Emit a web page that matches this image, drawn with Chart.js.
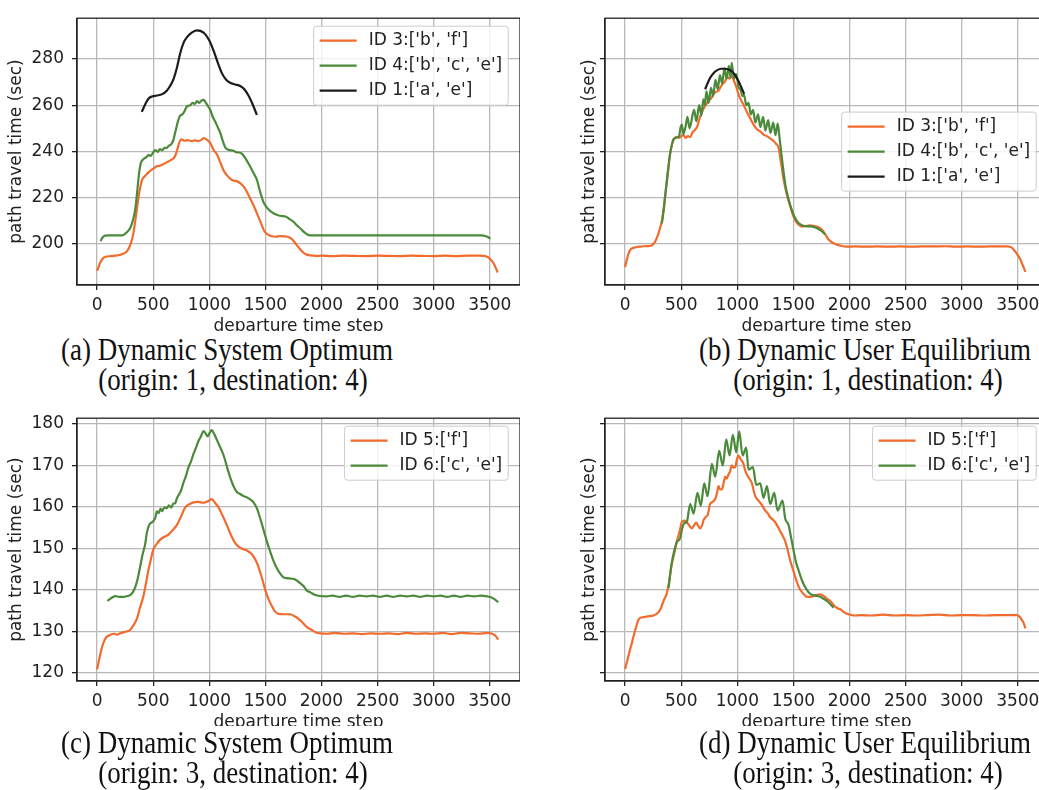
<!DOCTYPE html>
<html>
<head>
<meta charset="utf-8">
<script src="https://cdn.jsdelivr.net/npm/chart.js@4.4.1/dist/chart.umd.min.js"></script>
<style>
body { margin: 0; width: 1039px; height: 790px; overflow: hidden; background: #fff; position: relative; }
canvas { position: absolute; }
.cap { position: absolute; left: 0; width: 1039px; background: #fff; }
.cap div { position: absolute; transform: translateX(-50%) scaleX(0.87); white-space: nowrap;
  font-family: "Liberation Serif", serif; font-size: 31px; line-height: 30px; color: #111; }
</style>
</head>
<body>
<canvas id="chartA" width="520" height="345" style="left:0;top:0"></canvas>
<canvas id="chartB" width="520" height="345" style="left:528px;top:0"></canvas>
<canvas id="chartC" width="520" height="341" style="left:0;top:400px"></canvas>
<canvas id="chartD" width="520" height="341" style="left:528px;top:400px"></canvas>

<div class="cap" style="top:331px;height:69px">
  <div style="left:227px;top:4px">(a) Dynamic System Optimum</div>
  <div style="left:233px;top:34px">(origin: 1, destination: 4)</div>
  <div style="left:865px;top:4px">(b) Dynamic User Equilibrium</div>
  <div style="left:868px;top:34px">(origin: 1, destination: 4)</div>
</div>
<div class="cap" style="top:726px;height:64px">
  <div style="left:227px;top:2px">(c) Dynamic System Optimum</div>
  <div style="left:233px;top:32px">(origin: 3, destination: 4)</div>
  <div style="left:865px;top:2px">(d) Dynamic User Equilibrium</div>
  <div style="left:868px;top:32px">(origin: 3, destination: 4)</div>
</div>

<script>
// tick values
var xTicks = [0, 500, 1000, 1500, 2000, 2500, 3000, 3500];
var yTicksTop = [200, 220, 240, 260, 280];
var yTicksBottom = [120, 130, 140, 150, 160, 170, 180];

var labelsTop = ["ID 3:['b', 'f']", "ID 4:['b', 'c', 'e']", "ID 1:['a', 'e']"];
var labelsBottom = ["ID 5:['f']", "ID 6:['c', 'e']"];

// (a) DSO, origin 1 -> 4   [departure step, travel time]
var dsoA_id3 = [[0,188.2],[25,191.5],[50,193.6],[80,194.4],[120,194.6],[160,194.8],[200,195.1],[240,195.8],[270,197],[300,200],[325,205],[350,213.5],[375,222],[400,227.5],[430,229.5],[460,231],[500,232.5],[530,233.5],[560,233.8],[600,234.7],[630,235.5],[660,236.3],[690,237.5],[710,240],[730,243.5],[750,245.2],[780,244.6],[810,244.9],[840,244.4],[870,244.8],[900,244.5],[930,245],[950,245.8],[980,245],[1010,243.5],[1040,240.5],[1070,238.5],[1100,235],[1130,231.5],[1160,229.5],[1190,228],[1220,227.3],[1250,227],[1280,226],[1310,224.5],[1340,222],[1370,219],[1400,216],[1430,212.5],[1460,209],[1490,205.5],[1520,204],[1550,203.3],[1590,203],[1630,203.3],[1670,203.2],[1710,202.8],[1740,201.8],[1770,200],[1800,198.2],[1830,196.5],[1860,195.4],[1900,194.9],[1950,194.7],[2000,194.8],[2100,194.6],[2200,194.8],[2300,194.7],[2400,194.6],[2500,194.8],[2600,194.7],[2700,194.6],[2800,194.8],[2900,194.7],[3000,194.6],[3100,194.8],[3200,194.6],[3300,194.8],[3400,194.8],[3450,194.7],[3480,194.2],[3510,193],[3540,191],[3570,187.5]];
var dsoA_id4 = [[30,201.1],[50,202.8],[70,203.5],[100,203.6],[150,203.6],[200,203.6],[235,203.8],[265,205],[294,206.7],[315,209.5],[340,215],[360,224],[375,231],[390,235],[410,236.5],[440,237.5],[460,238.5],[475,238],[500,239.5],[520,240.5],[540,239.8],[560,241],[580,240.5],[600,241.5],[620,241.5],[640,242.5],[660,243],[680,245],[700,249],[720,253],[740,255.5],[760,256],[780,257.5],[800,259.5],[830,260],[850,261],[870,260.5],[890,261.8],[910,261],[930,262],[950,262.3],[970,261],[990,259.5],[1010,257.8],[1030,255],[1052,252.9],[1075,250.5],[1097,248.1],[1120,244.5],[1141,241.8],[1165,240.8],[1190,240.5],[1215,240.3],[1240,239.6],[1265,239.5],[1290,239],[1315,237.5],[1340,235.5],[1364,233.4],[1395,230.5],[1424,227.7],[1450,223],[1483,218],[1515,215.5],[1557,213.7],[1600,212.5],[1640,212],[1680,211.8],[1720,210.5],[1750,209.5],[1780,208],[1810,206.7],[1840,205.2],[1870,204.1],[1900,203.6],[2000,203.6],[2200,203.6],[2400,203.6],[2600,203.6],[2800,203.6],[3000,203.6],[3200,203.6],[3430,203.6],[3460,203.3],[3490,202.7],[3505,202.1]];
var dsoA_id1 = [[398,257.1],[430,260.5],[457,262.8],[490,263.8],[532,264.2],[580,264.8],[621,266.3],[650,268.3],[680,271.2],[710,276],[740,282.4],[770,287],[800,289.4],[840,291.3],[889,292.4],[920,292.2],[963,290.8],[1000,288],[1037,283.8],[1075,278.5],[1112,273.9],[1150,271],[1186,269.7],[1230,269],[1275,268.3],[1310,267],[1349,264.2],[1385,260.5],[1424,255.8]];

// (b) DUE, origin 1 -> 4
var dueB_id3 = [[0,189.9],[20,194],[45,197.3],[80,198.3],[120,198.7],[170,198.9],[223,199],[260,200.3],[283,202.5],[310,206.5],[330,210.5],[357,220.8],[380,230],[401,239],[420,243.5],[440,245.5],[460,246.3],[480,245.8],[500,246.6],[520,247],[540,245.8],[560,246.6],[580,246.2],[600,248.2],[624,249.4],[645,251],[665,254.5],[685,257],[705,259],[725,260.5],[745,262.3],[765,262.8],[788,264.9],[810,265.8],[830,266.2],[850,267.8],[870,269.3],[890,270.2],[910,272.2],[930,271.5],[950,272.6],[970,270.6],[990,268],[1010,264.8],[1030,262.5],[1055,260.2],[1085,257.1],[1115,254.3],[1145,251.6],[1175,249.6],[1204,248.7],[1234,247.3],[1264,246.6],[1293,245.6],[1323,244.5],[1345,243.3],[1368,241.5],[1390,235],[1412,228],[1440,221.5],[1471,216.3],[1495,212.5],[1516,210.2],[1545,208.3],[1576,207.4],[1610,207.6],[1645,207.9],[1680,207.7],[1720,207.2],[1754,206],[1785,204],[1813,201.8],[1850,200.4],[1888,199.6],[1930,199],[1977,198.7],[2050,198.8],[2150,198.7],[2250,198.8],[2350,198.7],[2450,198.8],[2550,198.7],[2650,198.8],[2750,198.8],[2850,198.9],[2950,198.7],[3050,198.8],[3150,198.7],[3250,198.8],[3350,198.8],[3405,198.8],[3450,198.2],[3494,195.5],[3520,193.5],[3539,191.3],[3568,187.8]];
var dueB_id4 = [[327,208.8],[345,215],[357,220.8],[380,231],[401,239],[420,243.5],[431,245.3],[460,246],[480,246.5],[495,250.5],[506,251.6],[520,247.5],[540,251],[555,255],[575,250],[600,255.5],[615,258],[635,253],[660,260],[680,255.5],[697,262.5],[710,260],[725,266],[745,261],[765,267.5],[785,264],[805,271],[825,267],[845,273],[865,269.5],[885,276],[905,271.5],[925,277],[940,272],[950,278.4],[970,271.5],[990,273.5],[1010,268],[1030,266.5],[1045,264],[1060,264.5],[1080,260],[1100,261],[1120,256],[1140,258],[1160,252.5],[1185,256],[1205,250.5],[1230,255],[1250,249],[1275,253.5],[1295,248],[1320,252.5],[1340,247],[1360,252],[1375,246.5],[1390,240],[1410,232],[1430,225],[1450,220.5],[1470,217],[1495,213.5],[1516,211],[1545,209],[1576,208],[1610,207.6],[1645,207.5],[1680,207.3],[1720,206.5],[1750,205.5],[1784,204]];
var dueB_id1 = [[713,266.9],[735,269.5],[758,271.9],[790,274],[818,275.1],[855,275.8],[892,275.8],[925,275.4],[951,274.7],[980,273],[1010,270.5],[1035,267.8],[1061,264.9]];

// (c) DSO, origin 3 -> 4
var dsoC_id5 = [[0,120.8],[20,123.5],[40,125.8],[56,127.2],[80,128.5],[116,129.1],[150,129.4],[180,129.2],[205,129.5],[240,129.8],[270,130],[294,130.3],[320,131.3],[354,133],[380,135.5],[413,138.5],[435,141.5],[457,144.7],[480,147.5],[502,149.8],[530,151],[562,152.1],[600,152.8],[636,153.3],[670,154.3],[710,155.6],[750,157.8],[785,159.9],[820,160.6],[859,161.1],[900,161.2],[948,161],[990,161.4],[1022,161.9],[1050,161],[1082,159.9],[1120,157.8],[1156,155.6],[1190,153.4],[1230,151.3],[1265,150.3],[1305,149.8],[1345,149.3],[1379,148.6],[1410,147.3],[1439,145.5],[1470,142.8],[1498,140],[1527,137.8],[1557,136.1],[1585,134.8],[1617,134.2],[1660,134.1],[1720,134.1],[1760,133.6],[1795,133],[1830,132.1],[1870,131],[1914,130.3],[1950,129.7],[1988,129.5],[2050,129.4],[2120,129.6],[2200,129.4],[2280,129.5],[2360,129.3],[2440,129.5],[2520,129.4],[2600,129.5],[2680,129.3],[2760,129.6],[2840,129.4],[2920,129.5],[3000,129.4],[3080,129.6],[3160,129.3],[3240,129.6],[3320,129.5],[3400,129.4],[3480,129.6],[3520,129.4],[3550,128.9],[3575,128]];
var dsoC_id6 = [[92,137.3],[120,137.9],[161,138.5],[200,138.3],[235,138.3],[270,138.5],[294,138.7],[320,139.5],[339,140.6],[360,142.5],[383,145.5],[405,148.5],[428,151],[445,154],[467,155.8],[485,156.2],[502,156.6],[520,157.5],[532,158.9],[550,158.5],[565,159.6],[580,159],[600,159.9],[621,159.7],[640,160.4],[660,159.8],[680,160.8],[696,160.9],[710,162],[725,162.8],[748,164],[770,165.9],[792,167.5],[815,169.6],[837,171],[859,172.8],[880,174.2],[903,175.9],[925,177],[948,178.3],[965,177.8],[984,177],[1002,177.8],[1022,178.5],[1045,177.5],[1067,176.2],[1090,174.8],[1112,173.5],[1135,171.8],[1156,169.8],[1185,167.2],[1216,165],[1245,163.6],[1275,163.1],[1305,162.6],[1335,162.3],[1365,161.8],[1394,161.1],[1425,159.6],[1454,157.2],[1483,154.5],[1513,151.7],[1543,149.2],[1572,147],[1602,145.2],[1632,143.9],[1661,143],[1691,142.8],[1730,142.7],[1766,142.5],[1810,141.6],[1840,140.9],[1870,139.8],[1899,139.4],[1940,138.8],[1988,138.5],[2040,138.4],[2100,138.6],[2160,138.3],[2220,138.6],[2280,138.3],[2340,138.6],[2400,138.4],[2460,138.6],[2520,138.3],[2580,138.6],[2640,138.3],[2700,138.6],[2760,138.4],[2820,138.6],[2880,138.3],[2940,138.6],[3000,138.4],[3060,138.6],[3120,138.3],[3180,138.6],[3240,138.3],[3300,138.6],[3360,138.4],[3420,138.6],[3480,138.4],[3520,138.1],[3550,137.6],[3575,137]];

// (d) DUE, origin 3 -> 4
var dueD_id5 = [[0,120.9],[20,123],[40,125.2],[60,127.2],[90,130.3],[119,132.8],[140,133.3],[164,133.4],[200,133.6],[253,133.8],[280,134.2],[297,134.6],[320,135.6],[342,137.3],[372,139.2],[395,142.5],[416,146.3],[440,149],[461,151.7],[485,154],[506,156.4],[530,156.7],[550,156.3],[572,155.5],[595,154.8],[615,155.6],[633,156.2],[650,155.5],[669,154.8],[685,155.5],[699,156.8],[720,157.6],[735,158],[758,160.7],[780,161.2],[803,161.9],[820,163.5],[832,165],[848,164.2],[862,164.2],[880,166],[892,167.3],[905,166.8],[921,167.8],[935,168.5],[951,170],[966,169.5],[981,169.6],[995,171.3],[1010,172.4],[1030,171.5],[1055,170.4],[1070,168.8],[1085,167.8],[1108,166.8],[1130,165.7],[1145,164],[1160,162.6],[1180,161.8],[1204,161],[1225,160.2],[1249,159.1],[1270,158.5],[1293,157.5],[1315,157],[1338,156.3],[1360,155.3],[1383,154.1],[1405,153],[1427,151.7],[1450,149.5],[1472,147],[1495,145],[1517,143.1],[1540,141.2],[1561,140],[1590,139],[1620,138.3],[1650,138.3],[1690,138.6],[1740,138.9],[1770,138.5],[1800,137.8],[1829,137.3],[1860,136.3],[1890,135.6],[1918,135.3],[1950,134.6],[1980,134.2],[2007,134],[2040,133.8],[2100,133.9],[2200,133.8],[2300,134],[2400,133.8],[2500,133.9],[2600,133.8],[2700,133.9],[2800,134],[2900,133.8],[3000,133.9],[3100,133.9],[3200,133.8],[3300,133.9],[3400,133.9],[3494,133.9],[3520,133.4],[3539,132.6],[3555,131.8],[3568,130.7]];
var dueD_id6 = [[387,140.4],[410,145.5],[440,149.7],[461,151.5],[491,152.5],[506,154.5],[525,156],[550,156.4],[580,160.7],[610,158.4],[645,163.4],[675,160.3],[705,165.7],[735,162.6],[773,170.4],[803,167.3],[838,173.5],[871,170],[901,176.3],[931,172.4],[960,177.4],[990,173.2],[1017,178.2],[1047,172.4],[1079,174.3],[1100,169],[1139,169.6],[1169,165.3],[1204,165.7],[1234,162.2],[1264,165],[1293,160.7],[1329,163.4],[1359,159.1],[1403,161.5],[1427,157.2],[1457,155.6],[1480,152.5],[1502,149.4],[1525,146.5],[1546,144.7],[1580,142],[1620,140],[1650,139],[1700,138.6],[1740,138.3],[1770,137.8],[1799,137.3],[1830,136.5],[1858,135.7]];

var ORANGE = '#f06b2c';
var GREEN = '#4b8a3b';
var BLACK = '#1c1c1c';
var INK = '#222222';
var FONT = '"DejaVu Sans", sans-serif';
var FSIZE = 17;

// top + right spines
var frame = {
    id: 'frame',
    afterDraw: function(chart){
        var a = chart.chartArea, ctx = chart.ctx;
        ctx.save();
        ctx.strokeStyle = INK;
        ctx.lineWidth = 1.3;
        ctx.strokeRect(a.left, a.top, a.right - a.left, a.bottom - a.top);
        ctx.restore();
    }
};

// matplotlib style legend box inside the axes
var boxLegend = {
    id: 'boxLegend',
    afterDraw: function(chart, args, opts){
        var ctx = chart.ctx, a = chart.chartArea;
        var sets = chart.data.datasets;
        ctx.save();
        ctx.font = FSIZE + 'px ' + FONT;
        var tw = 0;
        sets.forEach(function(d){ tw = Math.max(tw, ctx.measureText(d.label).width); });
        var w = 6 + 37 + 12 + tw + 6;
        var h = 4 + sets.length * 25;
        var x = a.right - 11.8 - w;
        var y = opts.where === 'center' ? (a.top + a.bottom - h) / 2 : a.top + 8;
        ctx.beginPath();
        ctx.roundRect(x, y, w, h, 3);
        ctx.fillStyle = 'rgba(255,255,255,0.8)';
        ctx.fill();
        ctx.strokeStyle = '#cccccc';
        ctx.lineWidth = 1;
        ctx.stroke();
        sets.forEach(function(d, i){
            var cy = y + 2 + 12.5 + i * 25;
            ctx.strokeStyle = d.borderColor;
            ctx.lineWidth = 2.2;
            ctx.beginPath();
            ctx.moveTo(x + 6, cy);
            ctx.lineTo(x + 43, cy);
            ctx.stroke();
            ctx.fillStyle = INK;
            ctx.textBaseline = 'middle';
            ctx.textAlign = 'left';
            ctx.fillText(d.label, x + 55, cy);
        });
        ctx.restore();
    }
};

function make_chart(id, series, labels, yMin, yMax, yTicks, showYLabels, legendAt, titlePad){
    var colors = [ORANGE, GREEN, BLACK];
    var datasets = series.map(function(s, i){
        return {
            label: labels[i],
            data: s.map(function(p){ return {x: p[0], y: p[1]}; }),
            borderColor: colors[i],
            borderWidth: 2.2,
            pointRadius: 0,
            fill: false,
            cubicInterpolationMode: 'monotone',
            order: series.length - i
        };
    });
    return new Chart(document.getElementById(id), {
        type: 'line',
        data: { datasets: datasets },
        options: {
            responsive: false,
            animation: false,
            events: [],
            layout: { padding: { top: 10, left: 0, right: 0, bottom: 0 } },
            plugins: {
                legend: { display: false },
                tooltip: { enabled: false },
                boxLegend: { where: legendAt }
            },
            scales: {
                x: {
                    type: 'linear',
                    min: -179.5,
                    max: 3769.5,
                    afterBuildTicks: function(s){ s.ticks = xTicks.map(function(v){ return {value: v}; }); },
                    afterFit: function(s){ s.height = 60; },
                    grid: { color: '#b8b8b8', lineWidth: 1.3, tickColor: INK, tickLength: 5, tickWidth: 1.3 },
                    border: { color: INK, width: 1.3 },
                    ticks: { color: INK, font: { family: FONT, size: FSIZE }, padding: 5, maxRotation: 0,
                             callback: function(v){ return String(v); } },
                    title: { display: true, text: 'departure time step', color: INK,
                             font: { family: FONT, size: FSIZE }, padding: { bottom: 7.8 } }
                },
                y: {
                    min: yMin,
                    max: yMax,
                    afterBuildTicks: function(s){ s.ticks = yTicks.map(function(v){ return {value: v}; }); },
                    afterFit: function(s){ s.width = 77; },
                    grid: { color: '#b8b8b8', lineWidth: 1.3, tickColor: INK, tickLength: 5, tickWidth: 1.3 },
                    border: { color: INK, width: 1.3 },
                    ticks: { color: INK, font: { family: FONT, size: FSIZE }, padding: 8,
                             callback: function(v){ return showYLabels ? String(v) : ''; } },
                    title: { display: true, text: 'path travel time (sec)', color: INK,
                             font: { family: FONT, size: FSIZE }, padding: { top: titlePad } }
                }
            }
        },
        plugins: [frame, boxLegend]
    });
}

make_chart('chartA', [dsoA_id3, dsoA_id4, dsoA_id1], labelsTop, 182.1, 297.7, yTicksTop, true, 'top', 6.8);
make_chart('chartB', [dueB_id3, dueB_id4, dueB_id1], labelsTop, 182.1, 297.7, yTicksTop, false, 'center', 51.8);
make_chart('chartC', [dsoC_id5, dsoC_id6], labelsBottom, 118.0, 181.4, yTicksBottom, true, 'top', 6.8);
make_chart('chartD', [dueD_id5, dueD_id6], labelsBottom, 118.0, 181.4, yTicksBottom, false, 'top', 51.8);
</script>
</body>
</html>
